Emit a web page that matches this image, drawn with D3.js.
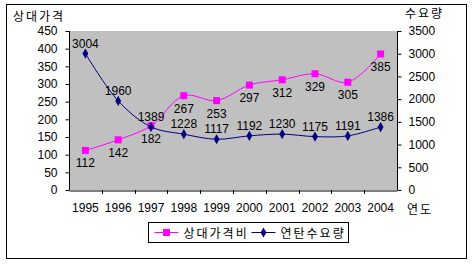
<!DOCTYPE html>
<html><head><meta charset="utf-8">
<script src="https://cdn.jsdelivr.net/npm/d3@7"></script>
<style>
body{margin:0;background:#fff;}
text{font-family:"Liberation Sans",Arial,sans-serif;font-size:12px;fill:#000;}
.ko{font-family:"Noto Sans CJK KR",sans-serif;font-size:12px;letter-spacing:2px;}
</style></head>
<body><svg width="473" height="266"></svg>
<script>
// data
const years = ['1995','1996','1997','1998','1999','2000','2001','2002','2003','2004'];
const priceRatio = [112,142,182,267,253,297,312,329,305,385];
const demand = [3004,1960,1389,1228,1117,1192,1230,1175,1191,1386];
const leftTicks = [0,50,100,150,200,250,300,350,400,450];
const rightTicks = [0,500,1000,1500,2000,2500,3000,3500];

const svg = d3.select('svg');
const L = 69, R = 397, T = 31, B = 190;

// frame
svg.append('rect').attr('x', 6.5).attr('y', 4.5).attr('width', 460).attr('height', 254)
  .attr('fill', '#fff').attr('stroke', '#000');
svg.append('rect').attr('x', L).attr('y', T).attr('width', R - L).attr('height', B - T)
  .attr('fill', '#c0c0c0');

const x = d3.scaleBand().domain(years).range([L, R]);
const yL = d3.scaleLinear().domain([0, 450]).range([B, T]);
const yR = d3.scaleLinear().domain([0, 3500]).range([B, T]);

// axes
const axL = svg.append('g').attr('transform', `translate(${L + 0.5},0)`)
  .call(d3.axisLeft(yL).tickValues(leftTicks).tickSize(4).tickSizeOuter(0).tickPadding(8));
const axR = svg.append('g').attr('transform', `translate(${R + 0.5},0)`)
  .call(d3.axisRight(yR).tickValues(rightTicks).tickFormat(d3.format('d')).tickSize(4).tickSizeOuter(0).tickPadding(7));
const axB = svg.append('g').attr('transform', `translate(0,${B + 0.5})`)
  .call(d3.axisBottom(x).tickSize(0).tickPadding(13));
// tick marks between categories
svg.append('g').selectAll('line').data(years.slice(1)).join('line')
  .attr('x1', d => Math.round(x(d)) + 0.5).attr('x2', d => Math.round(x(d)) + 0.5)
  .attr('y1', B).attr('y2', B + 4).attr('stroke', '#000');
[axL, axR, axB].forEach(a => {
  a.selectAll('path,line').attr('stroke', '#000');
  a.selectAll('text').style('font-size', '12px').style('font-family', '"Liberation Sans",Arial,sans-serif');
});
axL.select('.domain').attr('d', `M0,${T}V${B}`);
axR.select('.domain').attr('d', `M0,${T}V${B}`);

// titles
svg.append('text').attr('class', 'ko').attr('x', 13).attr('y', 21).text('상대가격');
svg.append('text').attr('class', 'ko').attr('x', 405).attr('y', 18).text('수요량');
svg.append('text').attr('class', 'ko').attr('x', 407).attr('y', 214).text('연도');

const cx = d => x(d) + x.bandwidth() / 2;
const curve = d3.curveCatmullRom.alpha(0.5);

// price ratio line
const pLine = d3.line().x((d, i) => cx(years[i])).y(d => yL(d)).curve(curve);
svg.append('path').datum(priceRatio).attr('d', pLine)
  .attr('fill', 'none').attr('stroke', '#ff00ff').attr('stroke-width', 1);
svg.append('g').selectAll('rect').data(priceRatio).join('rect')
  .attr('x', (d, i) => cx(years[i]) - 3.5).attr('y', d => yL(d) - 3.5)
  .attr('width', 7).attr('height', 7).attr('fill', '#ff00ff');
svg.append('g').selectAll('text').data(priceRatio).join('text')
  .attr('x', (d, i) => cx(years[i])).attr('y', d => yL(d) + 17)
  .attr('text-anchor', 'middle').text(d => d);

// demand line
const dLine = d3.line().x((d, i) => cx(years[i])).y(d => yR(d)).curve(curve);
svg.append('path').datum(demand).attr('d', dLine)
  .attr('fill', 'none').attr('stroke', '#000080').attr('stroke-width', 1);
const diamond = d3.symbol().type(d3.symbolDiamond).size(30);
svg.append('g').selectAll('path').data(demand).join('path')
  .attr('transform', (d, i) => `translate(${cx(years[i])},${yR(d)})`)
  .attr('d', diamond).attr('fill', '#000080');
svg.append('g').selectAll('text').data(demand).join('text')
  .attr('x', (d, i) => cx(years[i])).attr('y', d => yR(d) - 6)
  .attr('text-anchor', 'middle').text(d => d);

// legend
const lg = svg.append('g').attr('transform', 'translate(148.5,222.5)');
lg.append('rect').attr('width', 200).attr('height', 20).attr('fill', '#fff').attr('stroke', '#000');
lg.append('line').attr('x1', 6).attr('x2', 30).attr('y1', 10).attr('y2', 10).attr('stroke', '#ff00ff');
lg.append('rect').attr('x', 14.5).attr('y', 6.5).attr('width', 7).attr('height', 7).attr('fill', '#ff00ff');
lg.append('text').attr('class', 'ko').attr('x', 35).attr('y', 15).text('상대가격비');
lg.append('line').attr('x1', 103).attr('x2', 127).attr('y1', 10).attr('y2', 10).attr('stroke', '#000080');
lg.append('path').attr('transform', 'translate(115,10)').attr('d', diamond).attr('fill', '#000080');
lg.append('text').attr('class', 'ko').attr('x', 132).attr('y', 15).text('연탄수요량');
</script></body></html>
